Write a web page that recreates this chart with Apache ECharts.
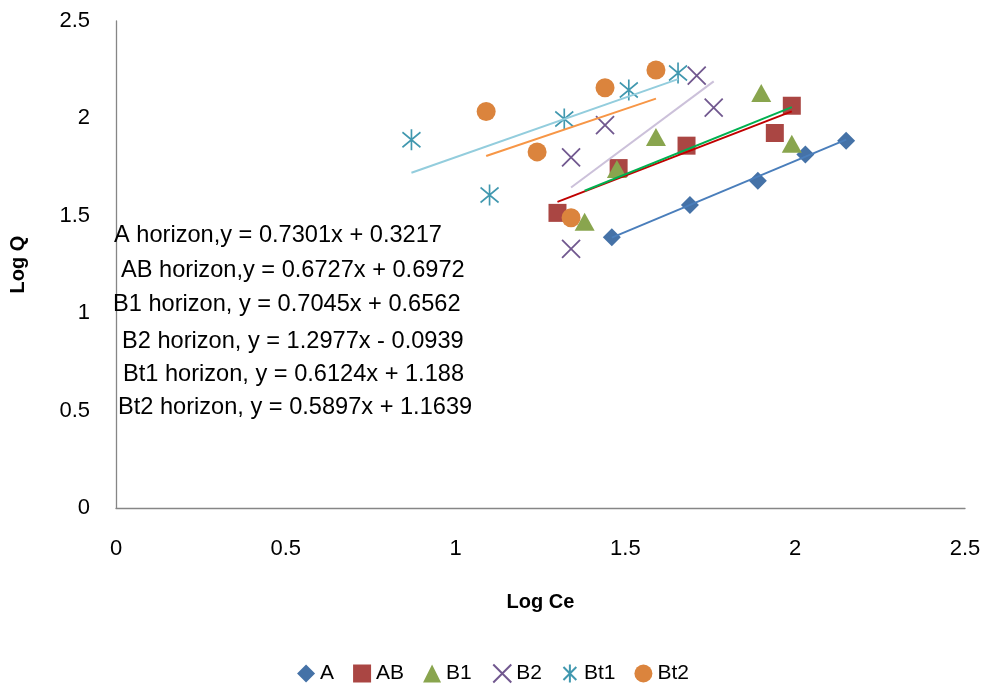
<!DOCTYPE html>
<html>
<head>
<meta charset="utf-8">
<script src="https://cdn.jsdelivr.net/npm/echarts@6/dist/echarts.min.js"></script>
<style>html,body{margin:0;padding:0;background:#fff}#c{width:986px;height:687px}</style>
</head>
<body>
<div id="c"></div>
<script>
// ---- data ----
var seriesNames = ['A', 'AB', 'B1', 'B2', 'Bt1', 'Bt2'];
var A_x   = [1.46, 1.69, 1.89, 2.03, 2.15];
var A_y   = [1.39, 1.555, 1.68, 1.815, 1.885];
var AB_x  = [1.30, 1.48, 1.68, 1.94, 1.99];
var AB_y  = [1.515, 1.745, 1.86, 1.925, 2.065];
var B1_x  = [1.38, 1.475, 1.59, 1.90, 1.99];
var B1_y  = [1.47, 1.74, 1.905, 2.13, 1.87];
var B2_x  = [1.34, 1.34, 1.44, 1.71, 1.76];
var B2_y  = [1.33, 1.80, 1.965, 2.22, 2.055];
var Bt1_x = [0.87, 1.10, 1.32, 1.51, 1.655];
var Bt1_y = [1.89, 1.607, 1.997, 2.146, 2.233];
var Bt2_x = [1.09, 1.24, 1.34, 1.44, 1.59];
var Bt2_y = [2.035, 1.828, 1.49, 2.157, 2.248];
var slopes     = [0.7301, 0.6727, 0.7045, 1.2977, 0.6124, 0.5897];
var intercepts = [0.3217, 0.6972, 0.6562, -0.0939, 1.188, 1.1639];
var equations = [
  'A horizon,y = 0.7301x + 0.3217',
  'AB horizon,y = 0.6727x + 0.6972',
  'B1 horizon, y = 0.7045x + 0.6562',
  'B2 horizon, y = 1.2977x - 0.0939',
  'Bt1 horizon, y = 0.6124x + 1.188',
  'Bt2 horizon, y = 0.5897x + 1.1639'
];
var xTicks = [0, 0.5, 1, 1.5, 2, 2.5];
var yTicks = [0, 0.5, 1, 1.5, 2, 2.5];

// ---- styles ----
var xs = [A_x, AB_x, B1_x, B2_x, Bt1_x, Bt2_x];
var ys = [A_y, AB_y, B1_y, B2_y, Bt1_y, Bt2_y];
var markerColors = ['#4572A7', '#AA4643', '#89A54E', '#71588F', '#4198AF', '#DB843D'];
var lineColors = ['#4A7EBB', '#C00000', '#00B050', '#CCC1DA', '#93CDDD', '#F79646'];
var symbols = [
  'diamond', 'rect', 'triangle',
  'path://M0,0L10,10M10,0L0,10',
  'path://M0,0L10,10M10,0L0,10M5,-2L5,12',
  'circle'
];
var sizes = [[18, 18], [18, 18], [20, 18], [18, 18], [18, 21], [19, 19]];
var FONT = 'Liberation Sans';
var eqPos = [[114, 235], [121, 270], [113, 304], [122, 341], [123, 374], [118, 407]];

var series = [];
seriesNames.forEach(function (n, i) {
  var stroke = (i === 3 || i === 4);
  series.push({
    name: n, type: 'scatter', z: 2,
    symbol: symbols[i], symbolSize: sizes[i],
    data: xs[i].map(function (x, k) { return [x, ys[i][k]]; }),
    itemStyle: stroke ? { color: 'none', borderColor: markerColors[i], borderWidth: 1.8, opacity: 1 }
                      : { color: markerColors[i], opacity: 1 }
  });
});
seriesNames.forEach(function (n, i) {
  var x0 = Math.min.apply(null, xs[i]), x1 = Math.max.apply(null, xs[i]);
  series.push({
    name: n + ' trend', type: 'line', z: 3, symbol: 'none', silent: true,
    data: [[x0, slopes[i] * x0 + intercepts[i]], [x1, slopes[i] * x1 + intercepts[i]]],
    lineStyle: { color: lineColors[i], width: 2 }
  });
});

var graphics = equations.map(function (t, i) {
  return { type: 'text', x: eqPos[i][0], y: eqPos[i][1], z: 10,
    style: { text: t, font: '23.6px "' + FONT + '"', fill: '#000', verticalAlign: 'middle', align: 'left' } };
});

var chart = echarts.init(document.getElementById('c'));
chart.setOption({
  animation: false,
  backgroundColor: '#fff',
  textStyle: { fontFamily: FONT },
  grid: { left: 113, right: 21, top: 21, bottom: 179, containLabel: false },
  xAxis: {
    type: 'value', min: xTicks[0], max: xTicks[xTicks.length - 1], interval: 0.5,
    name: 'Log Ce', nameLocation: 'middle', nameGap: 84,
    nameTextStyle: { fontSize: 20, fontWeight: 'bold', color: '#000', fontFamily: FONT },
    axisLine: { show: true, lineStyle: { color: '#868686', width: 1.3 } },
    axisTick: { show: false }, splitLine: { show: false },
    axisLabel: { fontSize: 22, color: '#000', margin: 30, fontFamily: FONT }
  },
  yAxis: {
    type: 'value', min: yTicks[0], max: yTicks[yTicks.length - 1], interval: 0.5,
    name: 'Log Q', nameLocation: 'middle', nameGap: 88, nameRotate: 90,
    nameTextStyle: { fontSize: 20, fontWeight: 'bold', color: '#000', fontFamily: FONT },
    axisLine: { show: true, lineStyle: { color: '#868686', width: 1.3 } },
    axisTick: { show: false }, splitLine: { show: false },
    axisLabel: { fontSize: 22, color: '#000', margin: 26, fontFamily: FONT }
  },
  legend: {
    data: seriesNames, top: 657, left: 'center', itemGap: 19, itemWidth: 18, itemHeight: 18,
    textStyle: { fontSize: 21, color: '#000', fontFamily: FONT }
  },
  graphic: graphics,
  series: series
});
</script>
</body>
</html>
